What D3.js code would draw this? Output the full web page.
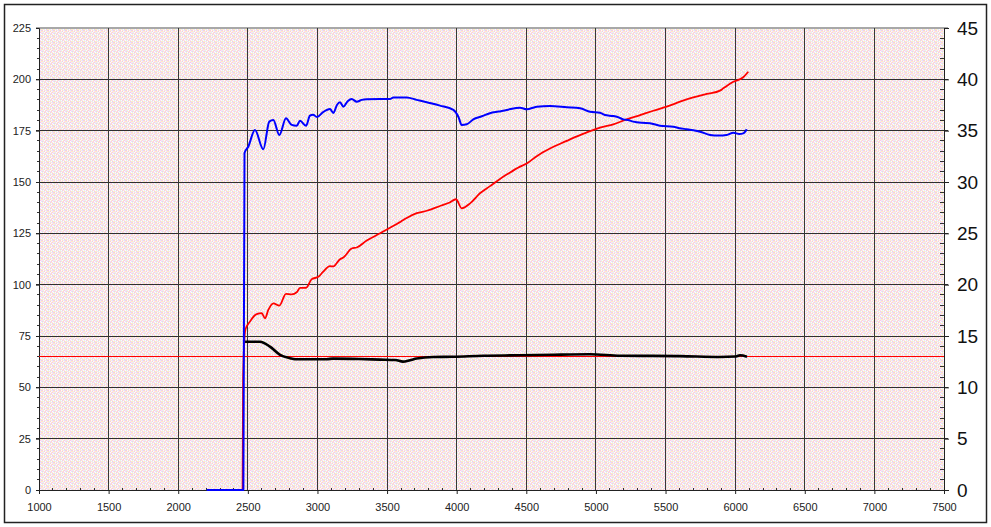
<!DOCTYPE html>
<html><head><meta charset="utf-8">
<script src="https://cdn.jsdelivr.net/npm/d3@7"></script>
<style>html,body{margin:0;padding:0;background:#fff;}svg{display:block;}</style>
</head><body>
<script>
// ---- data ----
const xTicks = [1000,1500,2000,2500,3000,3500,4000,4500,5000,5500,6000,6500,7000,7500];
const leftTicks = [0,25,50,75,100,125,150,175,200,225];
const rightTicks = [0,5,10,15,20,25,30,35,40,45];
const refValue = 65;

const blueRpm = [2204,2468,2476,2503,2551,2611,2654,2683,2726,2774,2815,2851,2875,2918,2946,2968,2997,3040,3090,3114,3140,3162,3186,3219,3246,3282,3318,3354,3450,3521,3545,3641,3713,3785,3880,3976,4012,4036,4072,4119,4180,4239,4300,4359,4455,4503,4575,4670,4790,4886,4958,5029,5065,5125,5160,5197,5230,5268,5330,5388,5460,5556,5600,5652,5700,5748,5820,5880,5939,5987,6030,6058,6075,6083];
const blueVal = [0,0,164.1,167.2,175.3,165.9,179.4,180.2,172.9,181.0,177.8,177.4,179.8,177.4,182.3,182.8,181.6,184.0,185.5,183.6,187.5,188.8,186.7,189.5,190.4,189.1,190.0,190.3,190.4,190.4,191.2,191.2,190.0,188.8,187.2,185.1,181.8,177.8,178.1,180.5,182.0,183.5,184.3,185.1,186.2,185.4,186.7,187.0,186.4,185.9,184.2,183.7,182.6,182.1,181.5,180.5,180.2,179.4,178.8,178.6,177.4,176.9,176.2,175.7,175.2,174.5,172.9,172.6,172.9,174.0,173.4,173.7,174.8,175.7];

const redRpm = [2462,2466,2482,2515,2564,2600,2623,2647,2683,2726,2774,2815,2851,2875,2918,2959,3006,3040,3090,3114,3162,3186,3246,3282,3354,3450,3521,3600,3641,3713,3785,3880,3950,3995,4036,4096,4167,4239,4311,4359,4455,4503,4575,4670,4790,4838,4886,4934,4993,5029,5125,5221,5317,5412,5508,5604,5699,5796,5891,5915,5987,6058,6094];
const redVal = [0,55,78.0,82.0,85.7,86.1,83.6,87.7,90.9,89.8,95.5,95.3,96.3,98.4,98.5,102.7,103.8,106.2,109.0,108.9,112.4,113.2,117.6,118.1,121.5,125.0,127.7,130.8,132.5,134.8,136.0,138.3,140.0,141.6,137.2,139.6,144.5,148.0,151.5,153.6,157.5,159.0,162.6,166.3,170.0,171.5,172.8,174.2,175.6,176.5,178.1,180.5,182.6,184.7,186.7,189.1,191.2,192.9,194.5,195.6,198.8,201.0,203.7];

const blackRpm = [2480,2587,2659,2731,2803,2839,3066,3112,3300,3449,3560,3614,3665,3713,3832,3976,4191,4455,4700,4958,5173,5400,5604,5891,6000,6035,6085];
const blackVal = [72.2,72.2,69.8,65.8,64.2,63.7,63.7,64.0,63.8,63.5,63.3,62.5,63.2,64.0,64.8,64.9,65.4,65.6,65.9,66.1,65.4,65.3,65.2,64.8,65.0,65.6,64.9];

// ---- drawing ----
const W = 991, H = 527;
const svg = d3.select("body").append("svg").attr("width", W).attr("height", H);
const defs = svg.append("defs");

// dither pattern for plot background
const ditherCols = ["#f6c8ea","#fffafc","#faf3c2","#dcf3f6","#fbe2f1"];
const ditherMap = [
  [0,1,2,4,3,0],
  [2,4,0,1,4,2],
  [4,3,1,2,0,4],
  [0,2,4,0,1,3],
  [3,1,0,2,4,1],
  [2,4,3,1,0,2]];
const pat = defs.append("pattern").attr("id","dither").attr("width",6).attr("height",6)
  .attr("patternUnits","userSpaceOnUse");
ditherMap.forEach((row, r) => row.forEach((c, k) => {
  pat.append("rect").attr("x",k).attr("y",r).attr("width",1).attr("height",1).attr("fill",ditherCols[c]);
}));

const x = d3.scaleLinear().domain([1000,7500]).range([39,944]);
const yL = d3.scaleLinear().domain([0,225]).range([490,28]);
const yR = d3.scaleLinear().domain([0,45]).range([490,28]);

// outer border
svg.append("rect").attr("x",4.5).attr("y",4.5).attr("width",982).attr("height",518)
  .attr("fill","#fff").attr("stroke","#222").attr("stroke-width",1.5);

// plot background
svg.append("rect").attr("x",x(1000)).attr("y",yL(225)).attr("width",x(7500)-x(1000))
  .attr("height",yL(0)-yL(225)).attr("fill","url(#dither)");

// gridlines
const grid = svg.append("g").attr("shape-rendering","crispEdges");
grid.selectAll("line.h").data(leftTicks.filter(d=>d>0)).join("line")
  .attr("x1",x(1000)-3).attr("x2",x(7500)+4)
  .attr("y1",d=>yL(d)).attr("y2",d=>yL(d))
  .attr("stroke",d=>d===225?"#a8a8a8":"#303030").attr("stroke-width",d=>d===225?2:1);
grid.selectAll("line.v").data(xTicks.filter(d=>d>1000 && d<7500)).join("line")
  .attr("x1",d=>x(d)).attr("x2",d=>x(d))
  .attr("y1",yL(225)).attr("y2",yL(0))
  .attr("stroke","#383838").attr("stroke-width",1);

// axes
const fontFam = "Liberation Sans, Arial, sans-serif";
const gx = svg.append("g").attr("transform",`translate(0,${yL(0)})`)
  .call(d3.axisBottom(x).tickValues(xTicks).tickSize(4).tickPadding(9).tickFormat(d3.format("d")));
gx.select(".domain").attr("stroke","#222");
gx.selectAll(".tick line").attr("stroke","#222");
gx.selectAll("text").attr("font-family",fontFam).attr("font-size",11).attr("fill","#222");

const minorX = d3.range(1000,7500,100).filter(d=>d%500!==0);
svg.append("g").attr("shape-rendering","crispEdges").selectAll("line").data(minorX).join("line")
  .attr("x1",d=>x(d)).attr("x2",d=>x(d)).attr("y1",yL(0)-2).attr("y2",yL(0))
  .attr("stroke","#333");

const gyl = svg.append("g").attr("transform",`translate(${x(1000)},0)`)
  .call(d3.axisLeft(yL).tickValues(leftTicks).tickSize(3).tickPadding(5));
gyl.select(".domain").attr("stroke","#222");
gyl.selectAll(".tick line").attr("stroke","#222");
gyl.selectAll("text").attr("font-family",fontFam).attr("font-size",11).attr("fill","#222");

const minorL = d3.range(0,225,5).filter(d=>d%25!==0);
svg.append("g").attr("shape-rendering","crispEdges").selectAll("line").data(minorL).join("line")
  .attr("x1",x(1000)-2).attr("x2",x(1000)).attr("y1",d=>yL(d)).attr("y2",d=>yL(d)).attr("stroke","#333");

const gyr = svg.append("g").attr("transform",`translate(${x(7500)},0)`)
  .call(d3.axisRight(yR).tickValues(rightTicks).tickSize(5).tickPadding(8));
gyr.select(".domain").attr("stroke","#222");
gyr.selectAll(".tick line").attr("stroke","#222");
gyr.selectAll("text").attr("font-family",fontFam).attr("font-size",19).attr("fill","#111");

const minorR = d3.range(0,45,1).filter(d=>d%5!==0);
svg.append("g").attr("shape-rendering","crispEdges").selectAll("line").data(minorR).join("line")
  .attr("x1",x(7500)-4).attr("x2",x(7500)).attr("y1",d=>yR(d)).attr("y2",d=>yR(d)).attr("stroke","#333");

// reference line
svg.append("line").attr("x1",x(1000)).attr("x2",x(7500))
  .attr("y1",yL(refValue)).attr("y2",yL(refValue))
  .attr("stroke","#ff0000").attr("stroke-width",1).attr("shape-rendering","crispEdges");

const line = d3.line().x(d=>x(d[0])).y(d=>yL(d[1])).curve(d3.curveMonotoneX);
const zip = (a,b) => a.map((v,i)=>[v,b[i]]);

svg.append("path").datum(zip(redRpm,redVal)).attr("d",line)
  .attr("fill","none").attr("stroke","#ff0000").attr("stroke-width",1.8).attr("stroke-linejoin","round");
svg.append("path").datum(zip(blueRpm,blueVal)).attr("d",line)
  .attr("fill","none").attr("stroke","#0000ff").attr("stroke-width",2).attr("stroke-linejoin","round");
svg.append("path").datum(zip(blackRpm,blackVal)).attr("d",line)
  .attr("fill","none").attr("stroke","#000000").attr("stroke-width",2.6).attr("stroke-linejoin","round");
</script>
</body></html>
